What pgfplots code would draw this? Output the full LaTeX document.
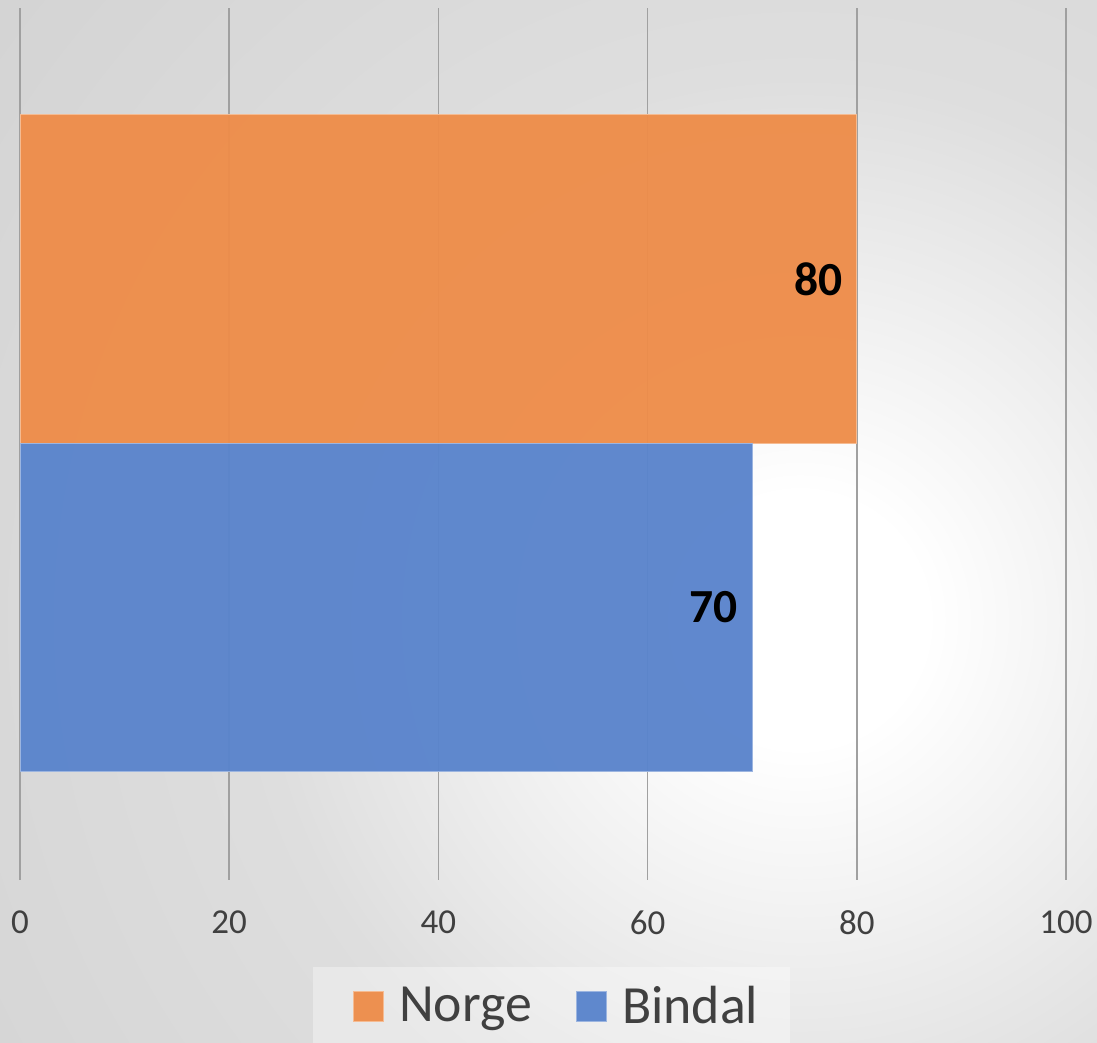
\documentclass[border=0pt]{standalone}
\usepackage{pgfplots}
\pgfplotsset{compat=1.18}
\usepackage{fontspec}
\setmainfont{Carlito}
\definecolor{norge}{HTML}{EE8D4A}
\definecolor{bindal}{HTML}{5A84CC}
\definecolor{txt}{HTML}{404040}
\definecolor{gridc}{HTML}{A0A0A0}
\pgfdeclareradialshading{bgshade}{\pgfpoint{0bp}{0bp}}{color(0bp)=(white); color(3bp)=(white); color(13bp)=(gray!26); color(27bp)=(gray!36); color(46bp)=(gray!42); color(50bp)=(gray!42)}
\pgfplotsset{mylegend/.style={legend image code/.code={\draw[##1] (0pt,-6pt) rectangle (12pt,6pt);}}}
\begin{document}
\begin{tikzpicture}
\begin{scope}
\clip (0,0) rectangle (438.8pt,417.2pt);
\shade[shading=bgshade] (320pt,169.2pt) circle (420pt);
\end{scope}
\fill[white, fill opacity=0.35] (125.2pt,0pt) rectangle (316pt,30.4pt);
\begin{axis}[
 at={(8pt,65.2pt)}, anchor=south west,
 scale only axis, width=418.4pt, height=348.8pt,
 xbar, bar shift=0pt, bar width=1,
 xmin=0, xmax=100, ymin=0, ymax=2.6545,
 xtick={0,20,...,100}, ytick=\empty,
 xmajorgrids, major grid style={gridc, line width=0.6pt},
 axis line style={draw=none}, major tick length=0pt,
 /pgf/number format/assume math mode=true,
 xticklabel style={font=\fontsize{14}{16}\selectfont, text=txt, inner sep=0pt, yshift=-12pt},
 nodes near coords, nodes near coords style={font=\fontsize{19}{22}\selectfont\bfseries, text=black, anchor=east, inner sep=0pt, xshift=-5.6pt, text opacity=1},
 legend columns=2,
 legend style={at={(0.512,-0.145)}, anchor=center, draw=none, fill=none, font=\fontsize{21.5}{25}\selectfont, text=txt, nodes={inner sep=0pt}, /tikz/every odd column/.append style={column sep=6pt}, /tikz/every even column/.append style={column sep=17.6pt}},
]
\addplot[fill=norge, draw=norge!60!white, fill opacity=0.96, line width=0.5pt, mylegend] coordinates {(80,1.8295)};
\addplot[fill=bindal, draw=bindal!60!white, fill opacity=0.96, line width=0.5pt, mylegend] coordinates {(70,0.8295)};
\legend{Norge, Bindal}
\end{axis}
\pgfresetboundingbox
\useasboundingbox (0,0) rectangle (438.8pt,417.2pt);
\end{tikzpicture}
\end{document}
